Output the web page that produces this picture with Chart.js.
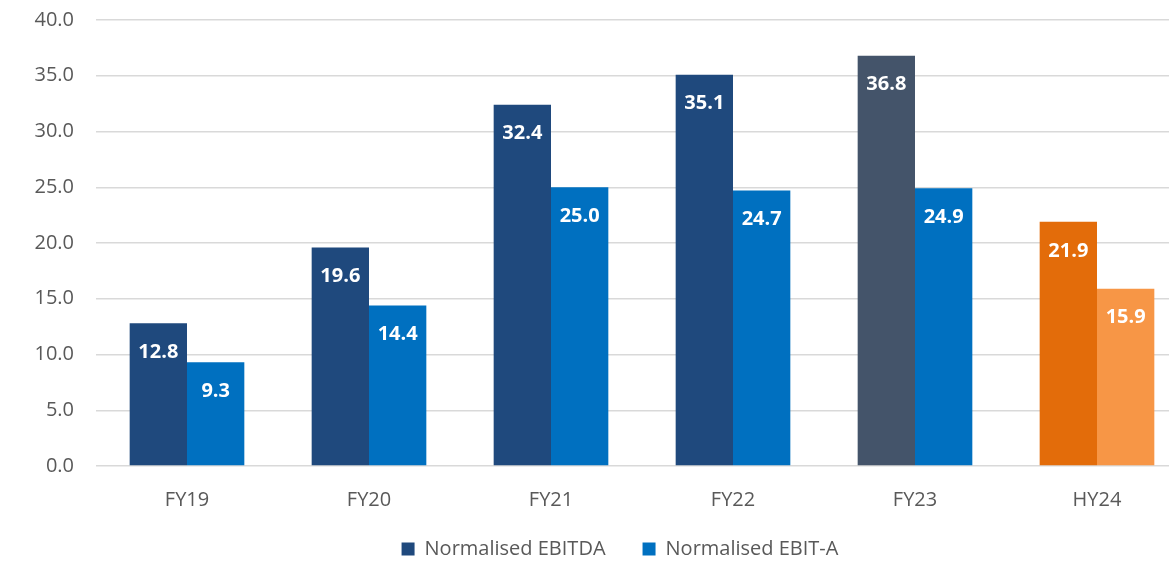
<!DOCTYPE html>
<html>
<head>
<meta charset="utf-8">
<script src="https://cdn.jsdelivr.net/npm/chart.js@4"></script>
<style>
  html, body { margin: 0; padding: 0; background: #fff; overflow: hidden; }
  #wrap { width: 1190px; height: 563px; overflow: hidden; }
  #chart { margin-top: -14px; }
</style>
</head>
<body>
<div id="wrap"><canvas id="chart" width="1190" height="577"></canvas></div>
<script>
"use strict";

// chart data
var categories = ["FY19", "FY20", "FY21", "FY22", "FY23", "HY24"];
var ebitda = [12.8, 19.6, 32.4, 35.1, 36.8, 21.9];
var ebitA = [9.3, 14.4, 25.0, 24.7, 24.9, 15.9];
var yTicks = [0, 5, 10, 15, 20, 25, 30, 35, 40];

// colours
var navy = "#1F497D", slate = "#44546A", blue = "#0070C0";
var orange = "#E36C0A", lightOrange = "#F79646";
var grey = "#595959";

// canvas is pulled up by SHIFT px so the plot top lands at y=19
var SHIFT = 14;
var CANVAS_H = 563 + SHIFT;
var PLOT_BOTTOM = 466 + SHIFT;
var LEGEND_TEXT_Y = 549 + SHIFT;
var BOTTOM_PAD = -60;

/*-- value labels inside the bar tops --*/
var barLabels = {
  id: "barLabels",
  afterDatasetsDraw: function (chart) {
    var ctx = chart.ctx;
    ctx.save();
    ctx.fillStyle = "#fff";
    ctx.font = "bold 20px 'Open Sans'";
    ctx.textAlign = "center";
    ctx.textBaseline = "middle";
    chart.data.datasets.forEach(function (ds, i) {
      chart.getDatasetMeta(i).data.forEach(function (bar, j) {
        ctx.fillText(ds.data[j].toFixed(1), bar.x, bar.y + 29);
      });
    });
    ctx.restore();
  }
};

/*-- move the legend: centred a bit right of the canvas --*/
var legendPlace = {
  id: "legendPlace",
  afterLayout: function (chart) {
    var lg = chart.legend;
    var pad = lg.options.labels.padding;
    var h = lg.height;
    lg.left = 50;
    lg.right = 1190;
    lg.width = 1140;
    lg.top = LEGEND_TEXT_Y - pad - 10;
    lg.bottom = lg.top + h;
  }
};

new Chart(document.getElementById("chart").getContext("2d"), {
  type: "bar",
  data: {
    labels: categories,
    datasets: [{
      label: "Normalised EBITDA",
      data: ebitda,
      backgroundColor: function (c) {
        if (c.dataIndex === 5) return orange;
        if (c.dataIndex === 4) return slate;
        return navy;
      }
    }, {
      label: "Normalised EBIT-A",
      data: ebitA,
      backgroundColor: function (c) {
        return c.dataIndex === 5 ? lightOrange : blue;
      }
    }]
  },
  options: {
    responsive: false,
    animation: false,
    layout: { padding: { left: 0, right: 2, top: 0, bottom: BOTTOM_PAD } },
    barPercentage: 1,
    categoryPercentage: 0.63,
    plugins: {
      legend: {
        position: "bottom",
        labels: {
          boxWidth: 13,
          boxHeight: 13,
          padding: 37,
          color: grey,
          font: { family: "'Open Sans'", size: 20 }
        }
      },
      tooltip: { enabled: false }
    },
    scales: {
      x: {
        grid: { display: false, drawTicks: false },
        border: { display: false },
        ticks: { color: grey, font: { family: "'Open Sans'", size: 20 }, padding: 22 },
        afterFit: function (s) { s.height = CANVAS_H - BOTTOM_PAD - s.chart.legend.height - PLOT_BOTTOM; }
      },
      y: {
        min: 0,
        max: 40,
        afterBuildTicks: function (s) { s.ticks = yTicks.map(function (v) { return { value: v }; }); },
        grid: { color: "#D9D9D9", lineWidth: 1.5, drawTicks: false },
        border: { display: false },
        ticks: {
          color: grey,
          font: { family: "'Open Sans'", size: 20 },
          padding: 22,
          callback: function (v) { return v.toFixed(1); }
        },
        afterFit: function (s) { s.width = 96; }
      }
    }
  },
  plugins: [barLabels, legendPlace]
});
</script>
</body>
</html>
